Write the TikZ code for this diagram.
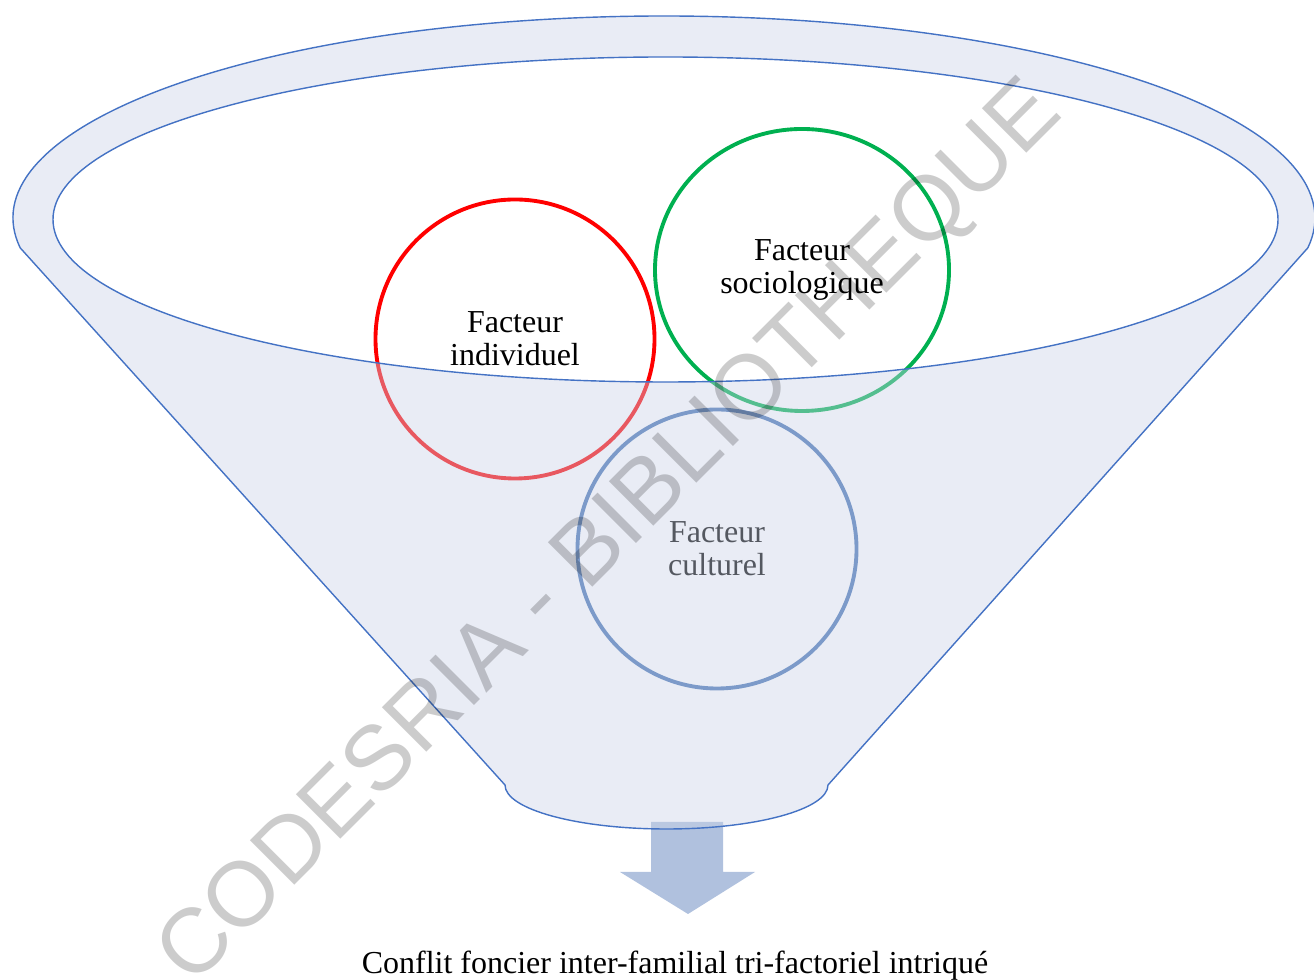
\documentclass[tikz,border=0pt]{standalone}
\usepackage{fontspec}
\setmainfont{Liberation Serif}
\newfontfamily\wmfont{Liberation Sans}
\usepackage{tikz}
\usetikzlibrary{calc, shapes.geometric}
\definecolor{rimblue}{RGB}{68,114,196}
\definecolor{funnelfill}{RGB}{202,210,231}
\definecolor{arrowblue}{RGB}{176,193,222}
\definecolor{culturblue}{RGB}{68,114,180}
\definecolor{sociogreen}{RGB}{0,176,80}

\begin{document}
\begin{tikzpicture}[
		factor/.style={circle, line width=2.2pt, inner sep=0pt, minimum size=5.58cm, align=center, font=\fontsize{18.2}{18.8}\selectfont},
		rim/.style={draw=rimblue, line width=0.8pt}
	]
	\useasboundingbox (0,0) rectangle (26.28,19.58);

	\coordinate (O) at (13.28,15.22);
	\coordinate (I) at (13.31,15.19);
	\coordinate (B) at (13.33,3.88);

	\node[factor, draw=red] (indiv) at (10.30,12.80) {Facteur\\individuel};
	\node[factor, ellipse, draw=sociogreen, minimum width=5.88cm, minimum height=5.64cm] (socio) at (16.04,14.18) {Facteur\\sociologique};
	\node[factor, draw=culturblue] (cultu) at (14.34,8.60) {Facteur\\culturel};

	\fill[arrowblue] (13.02,3.14) -- (14.46,3.14) -- (14.46,2.14) -- (15.10,2.14) -- (13.76,1.30) -- (12.40,2.14) -- (13.02,2.14) -- cycle;

	% funnel: rim and cone over the circles
	\path[rim, fill=funnelfill, fill opacity=0.42, even odd rule]
		($(O)+(188.5:13.02 and 4.04)$) arc[start angle=188.5, end angle=-8.5, x radius=13.02, y radius=4.04]
		-- ($(B)+(3.23,0)$) arc[start angle=0, end angle=-180, x radius=3.23, y radius=0.88] -- cycle
		(I) ellipse[x radius=12.25, y radius=3.25];

	\node[font=\fontsize{18.2}{18.8}\selectfont] (res) at (13.50,0.26) {Conflit foncier inter-familial tri-factoriel intriqué};

	\node[rotate=45, text=black, text opacity=0.2, font=\wmfont\fontsize{52}{60}\selectfont] (wm) at (12.24,8.88) {CODESRIA - BIBLIOTHEQUE};
\end{tikzpicture}
\end{document}
